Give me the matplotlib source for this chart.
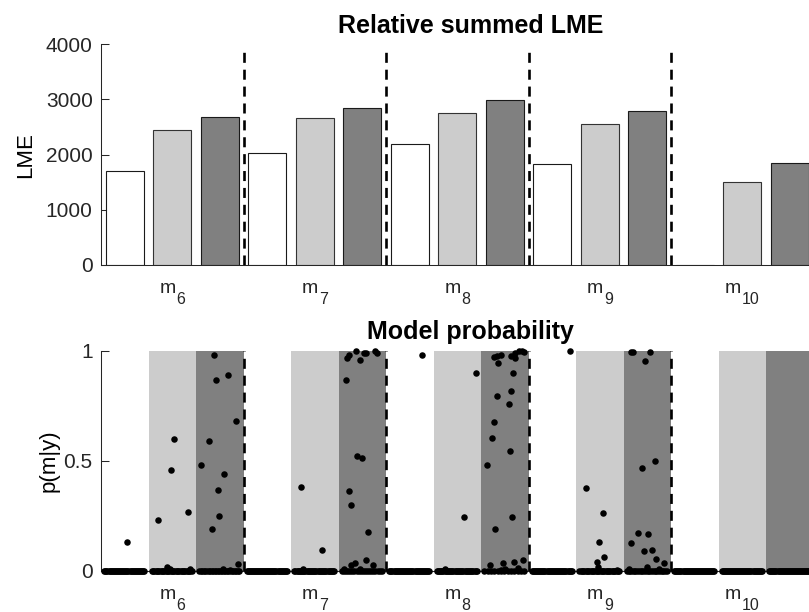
import numpy as np
import matplotlib.pyplot as plt

plt.rcParams['font.family'] = ['Liberation Sans', 'DejaVu Sans']

# model groups and bar values (relative summed LME), 3 conditions per model
models = ['6', '7', '8', '9', '10']
lme_white = [1700, 2035, 2195, 1835, 0]
lme_light = [2455, 2665, 2750, 2555, 1510]
lme_dark = [2685, 2840, 2985, 2785, 1845]

# model probabilities per subject: non-zero values (p) and their jitter (dx)
# for each model: [white column, light column, dark column]
m6_p = [[0.13],
        [0.60, 0.46, 0.23, 0.27, 0.02, 0.01, 0.01],
        [0.98, 0.87, 0.89, 0.68, 0.59, 0.48, 0.44, 0.37, 0.25, 0.19, 0.03, 0.01, 0.005]]
m6_dx = [[0.04],
         [0.04, -0.03, -0.31, 0.34, -0.11, -0.04, 0.37],
         [-0.12, -0.08, 0.17, 0.34, -0.22, -0.39, 0.09, -0.03, -0.01, -0.17, 0.39, 0.07, 0.22]]
m7_p = [[],
        [0.38, 0.094, 0.01],
        [1.0, 0.982, 0.967, 0.959, 0.991, 0.99, 1.0, 0.99, 0.868, 0.521, 0.514,
         0.364, 0.301, 0.178, 0.052, 0.027, 0.029, 0.035, 0.01, 0.01]]
m7_dx = [[],
         [-0.30, 0.16, -0.24],
         [-0.14, -0.28, -0.32, -0.04, 0.03, 0.07, 0.26, 0.32, -0.35, -0.12, 0.0,
          -0.27, -0.23, 0.13, 0.08, 0.22, -0.24, -0.15, -0.39, -0.05]]
m8_p = [[0.98],
        [0.898, 0.245, 0.01],
        [0.971, 0.979, 0.982, 0.945, 0.977, 0.967, 0.992, 0.998, 1.0, 0.995,
         0.898, 0.816, 0.795, 0.758, 0.677, 0.603, 0.545, 0.483, 0.245, 0.192,
         0.027, 0.035, 0.04, 0.05, 0.015, 0.01, 0.005]]
m8_dx = [[0.25],
         [0.39, 0.15, -0.26],
         [-0.23, -0.16, -0.08, -0.15, 0.13, 0.22, 0.22, 0.29, 0.36, 0.41,
          0.18, 0.13, -0.17, 0.08, -0.22, -0.27, 0.10, -0.37, 0.15, -0.20,
          -0.32, -0.04, 0.19, 0.39, 0.27, 0.0, -0.08]]
m9_p = [[0.998],
        [0.379, 0.265, 0.134, 0.064, 0.04, 0.02, 0.005],
        [0.997, 0.997, 0.995, 0.954, 0.498, 0.47, 0.172, 0.167, 0.126, 0.091,
         0.097, 0.055, 0.037, 0.02, 0.01, 0.01]]
m9_dx = [[0.37],
         [-0.29, 0.06, -0.01, 0.09, -0.05, -0.03, 0.36],
         [-0.34, -0.29, 0.05, -0.05, 0.16, -0.12, -0.20, 0.01, -0.34, -0.07,
          0.09, 0.19, 0.36, -0.01, 0.25, -0.38]]
m10_p = [[], [], []]
m10_dx = [[], [], []]
n_subjects = 40

light = '#cccccc'
dark = '#808080'
axcol = '#262626'

fig = plt.figure(figsize=(8.09, 6.12), dpi=100)
left, width = 101 / 809, (840 - 101) / 809
ax1 = fig.add_axes([left, 1 - 265 / 612, width, 220.7 / 612])
ax2 = fig.add_axes([left, 1 - 571 / 612, width, 220 / 612])

pos = np.arange(1, 3 * len(models) + 1)
group_centers = pos[1::3]
seps = pos[2::3][:-1] + 0.5

# ---- top: bars
ax1.bar(pos[0::3], lme_white, width=0.81, color='white', edgecolor='#1a1a1a', lw=0.8, zorder=2)
ax1.bar(pos[1::3], lme_light, width=0.81, color=light, edgecolor='#333333', lw=0.8, zorder=2)
ax1.bar(pos[2::3], lme_dark, width=0.81, color=dark, edgecolor='#1a1a1a', lw=0.8, zorder=2)
for s in seps:
    ax1.plot([s, s], [0, 3950], color='black', lw=1.9, ls=(0, (3.8, 2.6)), zorder=3)
ax1.set_xlim(0.5, 0.5 + (840 - 101) / 47.5)
ax1.set_ylim(0, 4000)
ax1.set_yticks([0, 1000, 2000, 3000, 4000])
ax1.set_ylabel('LME', fontsize=16, labelpad=7)
ax1.set_title('Relative summed LME', fontsize=18, fontweight='bold', pad=8)

# ---- bottom: model probabilities
ax2.bar(pos[1::3], 1, width=1.0, color=light, lw=0, zorder=0)
ax2.bar(pos[2::3], 1, width=1.0, color=dark, lw=0, zorder=0)
for s in seps:
    ax2.plot([s, s], [0, 1], color='black', lw=1.9, ls=(0, (3.8, 2.6)), zorder=2)

groups_p = [m6_p, m7_p, m8_p, m9_p, m10_p]
groups_dx = [m6_dx, m7_dx, m8_dx, m9_dx, m10_dx]
for g, (gp, gdx) in enumerate(zip(groups_p, groups_dx)):
    for c in range(3):
        xc = pos[3 * g + c]
        n_zero = n_subjects - len(gp[c])
        zx = xc + np.linspace(-0.43, 0.41, n_zero)
        ax2.scatter(zx, np.zeros(n_zero), s=22, color='black', lw=0, zorder=4, clip_on=False)
        ax2.scatter(xc + np.array(gdx[c]), gp[c], s=22, color='black', lw=0, zorder=4, clip_on=False)

ax2.set_xlim(ax1.get_xlim())
ax2.set_ylim(0, 1)
ax2.set_yticks([0, 0.5, 1])
ax2.set_yticklabels(['0', '0.5', '1'])
ax2.set_ylabel('p(m|y)', fontsize=16, labelpad=3)
ax2.set_title('Model probability', fontsize=18, fontweight='bold', pad=9)

px = 0.72  # points per pixel at 100 dpi
for ax in (ax1, ax2):
    ax.set_xticks(group_centers)
    ax.set_xticklabels([])
    # "m" with a lowered subscript, centred under each model group
    for c, m in zip(group_centers, models):
        total = 16 + 1 + 8.9 * len(m)
        ax.annotate('m', xy=(c, 0), xycoords=('data', 'axes fraction'),
                    xytext=(-total / 2 * px, -28 * px), textcoords='offset points',
                    ha='left', va='baseline', fontsize=14, color=axcol, annotation_clip=False)
        ax.annotate(m, xy=(c, 0), xycoords=('data', 'axes fraction'),
                    xytext=((-total / 2 + 17) * px, -38.5 * px), textcoords='offset points',
                    ha='left', va='baseline', fontsize=11.5, color=axcol, annotation_clip=False)
    for sp in ('top', 'right'):
        ax.spines[sp].set_visible(False)
    for sp in ('left', 'bottom'):
        ax.spines[sp].set_color(axcol)
        ax.spines[sp].set_linewidth(0.75)
    ax.tick_params(axis='y', direction='in', length=5.5, width=0.75, color=axcol,
                   labelcolor=axcol, labelsize=15, pad=6)
    ax.tick_params(axis='x', length=0)

fig.savefig('out.png', dpi=100)
